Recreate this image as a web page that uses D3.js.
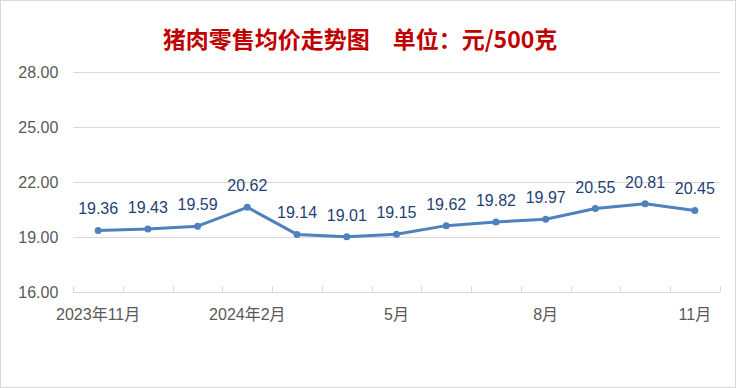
<!DOCTYPE html>
<html>
<head>
<meta charset="utf-8">
<script src="https://cdn.jsdelivr.net/npm/d3@7"></script>
<style>
  body { margin: 0; background: #fff; }
  svg { display: block; }
</style>
</head>
<body>
<svg class="chart" width="736" height="388"></svg>
<script>
var months = ["2023年11月", "12月", "2024年1月", "2024年2月", "3月", "4月", "5月",
              "6月", "7月", "8月", "9月", "10月", "11月"];
var prices = [19.36, 19.43, 19.59, 20.62, 19.14, 19.01, 19.15, 19.62, 19.82, 19.97, 20.55, 20.81, 20.45];
var shownMonths = ["2023年11月", "2024年2月", "5月", "8月", "11月"];
var yTicks = [16, 19, 22, 25, 28];

var svg = d3.select("svg.chart");
var width = 736, height = 388;
var plotLeft = 73.3, plotRight = 719.7, plotTop = 72, plotBottom = 292;

// outer frame
svg.append("rect")
    .attr("x", 0.5).attr("y", 0.5)
    .attr("width", width - 1).attr("height", height - 1)
    .attr("fill", "#fff")
    .attr("stroke", "#d9d9d9");

svg.append("text")
    .attr("x", 360).attr("y", 48)
    .attr("text-anchor", "middle")
    .attr("font-family", "'Noto Sans CJK SC', sans-serif")
    .attr("font-size", "23px")
    .attr("font-weight", "bold")
    .attr("fill", "#c00000")
    .text("猪肉零售均价走势图　单位：元/500克");

var x = d3.scaleBand().domain(months).range([plotLeft, plotRight]);
var y = d3.scaleLinear().domain([16, 28]).range([plotBottom, plotTop]);

// grid lines
svg.selectAll(".grid")
    .data(yTicks)
    .enter()
        .append("line")
        .attr("class", "grid")
        .attr("x1", plotLeft).attr("x2", plotRight)
        .attr("y1", function(d) { return Math.round(y(d)) + 0.5; })
        .attr("y2", function(d) { return Math.round(y(d)) + 0.5; })
        .attr("stroke", "#d9d9d9")
        .attr("stroke-width", 1);

// y axis labels
var yAxis = svg.append("g")
    .attr("transform", "translate(" + (plotLeft - 12) + ",0)")
    .call(d3.axisLeft(y).tickValues(yTicks).tickSize(0).tickFormat(d3.format(".2f")));
yAxis.select(".domain").remove();
yAxis.selectAll("text")
    .attr("font-family", "'Liberation Sans', sans-serif")
    .attr("font-size", "16px")
    .attr("fill", "#595959")
    .attr("dy", "0.36em");

// x axis: category boundary ticks
var bounds = months.map(function(m) { return x(m); }).concat([plotRight]);
svg.selectAll(".xtick")
    .data(bounds)
    .enter()
        .append("line")
        .attr("class", "xtick")
        .attr("x1", function(d) { return Math.round(d) + 0.5; })
        .attr("x2", function(d) { return Math.round(d) + 0.5; })
        .attr("y1", plotBottom - 6).attr("y2", plotBottom)
        .attr("stroke", "#d9d9d9");

var xAxis = svg.append("g")
    .attr("transform", "translate(0," + plotBottom + ")")
    .call(d3.axisBottom(x).tickValues(months.filter(function(m, i) { return i % 3 === 0; }))
        .tickSize(0).tickPadding(17)
        .tickFormat(function(d, i) { return shownMonths[i]; }));
xAxis.select(".domain").remove();
xAxis.selectAll("text")
    .attr("font-family", "'Liberation Sans', 'Noto Sans CJK SC', sans-serif")
    .attr("font-size", "16px")
    .attr("fill", "#595959");

var cx = function(d, i) { return x(months[i]) + x.bandwidth() / 2; };

var line = d3.line()
    .x(function(d, i) { return cx(d, i); })
    .y(function(d) { return y(d); });

svg.append("path")
    .datum(prices)
    .attr("d", line)
    .attr("fill", "none")
    .attr("stroke", "#4f81bd")
    .attr("stroke-width", 3)
    .attr("stroke-linejoin", "round");

svg.selectAll(".dot")
    .data(prices)
    .enter()
        .append("circle")
        .attr("class", "dot")
        .attr("cx", cx)
        .attr("cy", function(d) { return y(d); })
        .attr("r", 3.5)
        .attr("fill", "#4f81bd");

svg.selectAll(".val")
    .data(prices)
    .enter()
        .append("text")
        .attr("class", "val")
        .attr("x", cx)
        .attr("y", function(d) { return y(d) - 16; })
        .attr("text-anchor", "middle")
        .attr("font-family", "'Liberation Sans', sans-serif")
        .attr("font-size", "16px")
        .attr("fill", "#1f3f75")
        .text(function(d) { return d.toFixed(2); });
</script>
</body>
</html>
